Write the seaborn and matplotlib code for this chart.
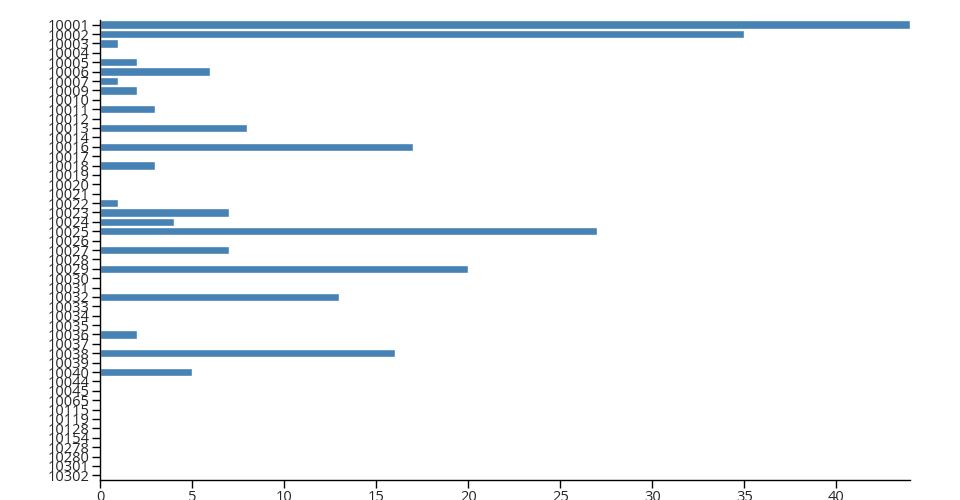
import matplotlib
matplotlib.use('Agg')
from matplotlib import pyplot as plt
from matplotlib import font_manager
import seaborn as sns
import pandas as pd

zips = ['10001', '10002', '10003', '10004', '10005', '10006', '10007', '10009',
        '10010', '10011', '10012', '10013', '10014', '10016', '10017', '10018',
        '10019', '10020', '10021', '10022', '10023', '10024', '10025', '10026',
        '10027', '10028', '10029', '10030', '10031', '10032', '10033', '10034',
        '10035', '10036', '10037', '10038', '10039', '10040', '10044', '10045',
        '10065', '10115', '10119', '10128', '10154', '10278', '10280', '10301',
        '10302']
counts = [44, 35, 1, 0, 2, 6, 1, 2,
          0, 3, 0, 8, 0, 17, 0, 3,
          0, 0, 0, 1, 7, 4, 27, 0,
          7, 0, 20, 0, 0, 13, 0, 0,
          0, 2, 0, 16, 0, 5, 0, 0,
          0, 0, 0, 0, 0, 0, 0, 0,
          0]

df = pd.DataFrame({'zip': zips, 'count': counts})

sns.set_style('ticks')
plt.rcParams['font.family'] = ['Open Sans', 'DejaVu Sans']
plt.rcParams['font.weight'] = 'normal'

fig = plt.figure(figsize=(9.6, 5), dpi=100)
ax = fig.add_axes([100/960, 20/500, 810/960, 460/500])
sns.barplot(data=df, x='count', y='zip', order=zips, color='steelblue',
            saturation=1, width=0.9, ax=ax)

ax.set_xlim(0, 44)
ax.set_ylim(len(zips) - 0.5, -0.5)
ax.set_xticks(range(0, 45, 5))
ax.set_xlabel('')
ax.set_ylabel('')
ax.tick_params(axis='both', labelsize=10.5, length=6, width=1, color='black', pad=1.5)
for lab in ax.get_xticklabels() + ax.get_yticklabels():
    lab.set_fontweight('normal')
for s in ['top', 'right']:
    ax.spines[s].set_visible(False)
for s in ['left', 'bottom']:
    ax.spines[s].set_color('black')
    ax.spines[s].set_linewidth(1)

plt.savefig('out.png', dpi=100)
